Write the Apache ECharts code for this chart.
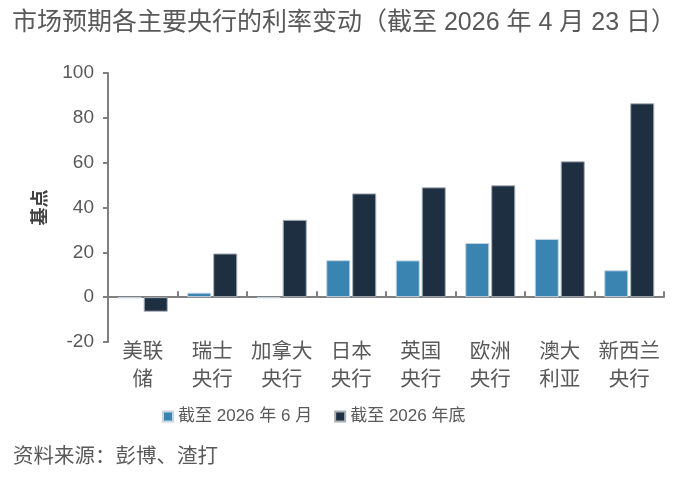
<!DOCTYPE html>
<html><head><meta charset="utf-8">
<script src="https://cdn.jsdelivr.net/npm/echarts@6/dist/echarts.min.js"></script>
<style>html,body{margin:0;padding:0;background:#fff}#c{width:684px;height:484px}</style>
</head><body><div id="c"></div>
<script>
var categories = ['美联\n储','瑞士\n央行','加拿大\n央行','日本\n央行','英国\n央行','欧洲\n央行','澳大\n利亚','新西兰\n央行'];
var seriesNames = ['截至 2026 年 6 月','截至 2026 年底'];
var juneValues = [-0.5, 2, -0.5, 16.5, 16.4, 24.2, 26, 12];
var yearEndValues = [-6.5, 19.5, 34.5, 46.3, 49, 49.9, 60.6, 86.5];
var yTicks = {min:-20, max:100, interval:20};

var FONT = '"Liberation Sans","Noto Sans CJK SC",sans-serif';
var chart = echarts.init(document.getElementById('c'));
chart.setOption({
  animation:false,
  textStyle:{fontFamily:FONT},
  title:[
    {text:'市场预期各主要央行的利率变动（截至 2026 年 4 月 23 日）',left:7,top:6,textStyle:{fontSize:25,fontWeight:'normal',color:'#595959',fontFamily:FONT}},
    {text:'资料来源：彭博、渣打',left:8,top:442,textStyle:{fontSize:20.5,fontWeight:'normal',color:'#595959',fontFamily:FONT}}
  ],
  legend:{left:157,top:403,itemWidth:10,itemHeight:10,itemGap:22,icon:'rect',
    textStyle:{fontSize:17,color:'#595959',fontFamily:FONT},data:seriesNames},
  grid:{left:108,right:20,top:73,bottom:142},
  xAxis:[
    {type:'category',data:categories,position:'bottom',
     axisLine:{show:false,onZero:false},axisTick:{show:false},
     axisLabel:{fontSize:20.5,color:'#595959',lineHeight:28,margin:-4,interval:0,fontFamily:FONT}},
    {type:'category',data:categories,
     axisLine:{show:true,onZero:true,lineStyle:{color:'#808080',width:2}},
     axisTick:{show:true,length:6,lineStyle:{color:'#808080',width:2}},
     axisLabel:{show:false}}
  ],
  yAxis:{type:'value',min:yTicks.min,max:yTicks.max,interval:yTicks.interval,
    name:'基点',nameLocation:'middle',nameRotate:90,nameGap:58,
    nameTextStyle:{fontSize:18,fontWeight:'bold',color:'#404040',fontFamily:FONT},
    axisLine:{show:true,lineStyle:{color:'#808080',width:2}},
    axisTick:{show:true,length:5,lineStyle:{color:'#808080',width:2}},
    splitLine:{show:false},
    axisLabel:{fontSize:19,color:'#595959',margin:14,fontFamily:FONT}},
  series:[
    {name:seriesNames[0],type:'bar',data:juneValues,xAxisIndex:0,barGap:'8%',barCategoryGap:'28%',
     itemStyle:{color:'#3a84b1',borderColor:'#c5d6e2',borderWidth:1}},
    {name:seriesNames[1],type:'bar',data:yearEndValues,xAxisIndex:0,
     itemStyle:{color:'#1f2f42',borderColor:'#a8b0b8',borderWidth:1}}
  ]
});
</script></body></html>
